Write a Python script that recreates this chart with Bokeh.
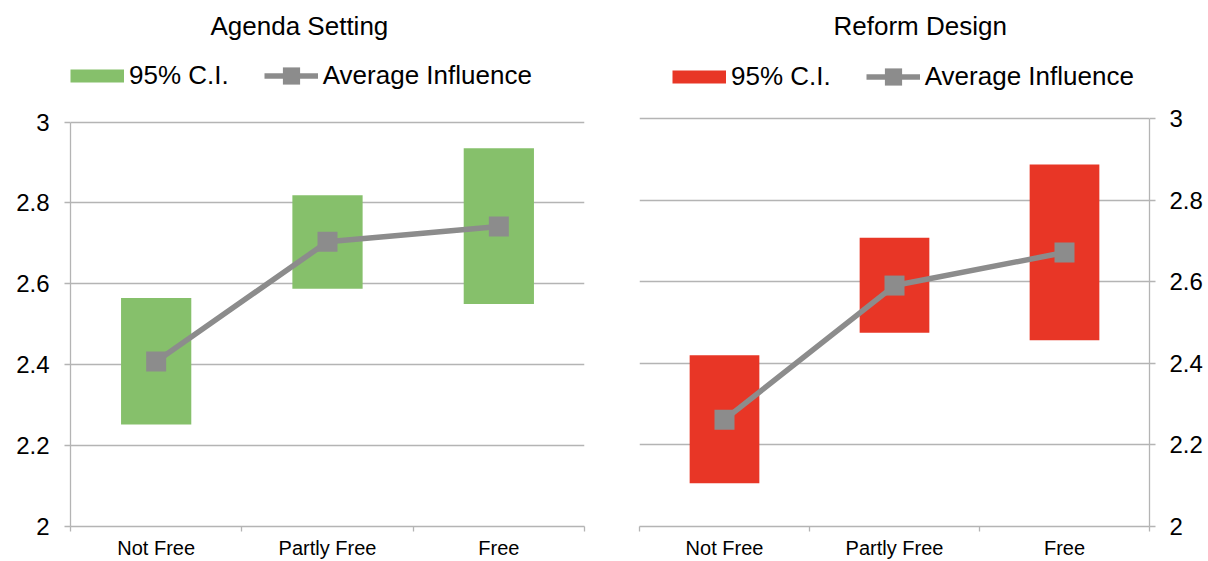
from bokeh.plotting import figure
from bokeh.layouts import row
from bokeh.models import Range1d, FixedTicker, NumeralTickFormatter, Legend, LegendItem
from bokeh.embed import file_html
from bokeh.resources import INLINE

# ---- data ----
categories = ["Not Free", "Partly Free", "Free"]
agenda_ci_low = [2.252, 2.588, 2.550]
agenda_ci_high = [2.565, 2.819, 2.935]
agenda_avg = [2.408, 2.704, 2.742]
reform_ci_low = [2.106, 2.475, 2.457]
reform_ci_high = [2.420, 2.708, 2.888]
reform_avg = [2.262, 2.591, 2.672]
y_ticks = [2, 2.2, 2.4, 2.6, 2.8, 3]
titles = ["Agenda Setting", "Reform Design"]
legend_labels = ["95% C.I.", "Average Influence"]

FONT = "Liberation Sans"
GREEN = "#86c06b"
RED = "#e83626"
GRAY = "#8c8c8c"
GRID = "#b4b4b4"
H = 561
TOP = 44          # frame top (px); the frame reaches up to hold the legend
ROW_H = 51        # legend row height
GLYPH_H = 43
NAN = float("nan")


def make_panel(title, low, high, avg, color, side, width, mb, title_offset,
               legend_x, top_value_px, legend_top_px):
    n = len(categories)
    xs = [i + 0.5 for i in range(n)]
    y0, y1 = y_ticks[0], y_ticks[-1]
    frame_bottom = H - mb[3]
    px_per_unit = (frame_bottom - top_value_px) / (y1 - y0)
    y_end = y1 + (top_value_px - TOP) / px_per_unit

    p = figure(width=width, height=H, x_range=Range1d(0, n), y_range=Range1d(y0, y_end),
               output_backend="svg", toolbar_location=None, y_axis_location=side,
               min_border_left=mb[0], min_border_right=mb[1],
               min_border_top=TOP, min_border_bottom=mb[3])
    p.outline_line_color = None
    p.background_fill_color = "white"
    p.border_fill_color = "white"

    # title
    p.title.text = title
    p.title.align = "left"
    p.title.offset = title_offset
    p.title.standoff = 8
    p.title.text_font = FONT
    p.title.text_font_size = "26px"
    p.title.text_font_style = "normal"
    p.title.text_color = "black"

    # glyphs
    p.vbar(x=xs, bottom=low, top=high, width=0.41, fill_color=color, line_color=None)
    ln = p.line(xs, avg, line_width=5.5, line_color=GRAY)
    sq = p.scatter(xs, avg, marker="square", size=20, fill_color=GRAY, line_color=None)
    # legend-only swatch for the confidence-interval bars
    proxy = p.line(x=[NAN], y=[NAN], line_width=13, line_color=color, line_cap="butt")

    legend = Legend(items=[LegendItem(label=legend_labels[0], renderers=[proxy]),
                           LegendItem(label=legend_labels[1], renderers=[ln, sq])],
                    location=(legend_x, frame_bottom - legend_top_px - ROW_H),
                    orientation="horizontal",
                    glyph_width=54, glyph_height=GLYPH_H, label_height=ROW_H,
                    label_standoff=5, spacing=35, padding=0, margin=0,
                    border_line_color=None, background_fill_alpha=0,
                    label_text_font=FONT, label_text_font_size="26px",
                    label_text_color="black")
    p.add_layout(legend)

    # x axis
    xa = p.xaxis[0]
    xa.ticker = FixedTicker(ticks=xs, minor_ticks=list(range(n + 1)))
    xa.major_label_overrides = {x: c for x, c in zip(xs, categories)}
    xa.major_tick_line_color = None
    xa.major_tick_out = 0
    xa.major_tick_in = 0
    xa.minor_tick_out = 5
    xa.minor_tick_in = 0
    xa.minor_tick_line_color = GRID
    xa.minor_tick_line_width = 1.3
    xa.axis_line_color = GRID
    xa.axis_line_width = 1.3
    xa.major_label_standoff = 5
    xa.major_label_text_font = FONT
    xa.major_label_text_font_size = "20px"
    xa.major_label_text_color = "black"

    # y axis
    ya = p.yaxis[0]
    ya.ticker = FixedTicker(ticks=y_ticks, minor_ticks=[])
    ya.formatter = NumeralTickFormatter(format="0.[0]")
    ya.bounds = (y0, y1)
    ya.major_tick_out = 6
    ya.major_tick_in = 0
    ya.major_tick_line_color = GRID
    ya.major_tick_line_width = 1.3
    ya.axis_line_color = GRID
    ya.axis_line_width = 1.3
    ya.major_label_standoff = 15 if side == "left" else 14
    ya.major_label_text_font = FONT
    ya.major_label_text_font_size = "24px"
    ya.major_label_text_color = "black"

    p.xgrid.visible = False
    p.ygrid.grid_line_color = GRID
    p.ygrid.grid_line_width = 1.3
    return p


p1 = make_panel(titles[0], agenda_ci_low, agenda_ci_high, agenda_avg, GREEN, "left", 628,
                (70, 44, None, 34), 140, 0, 121.7, 51)
p2 = make_panel(titles[1], reform_ci_low, reform_ci_high, reform_avg, RED, "right", 580,
                (11, 59, None, 35), 194, 33, 118.3, 51)

layout = row(p1, p2)
open("out.html", "w").write(file_html(layout, INLINE))
